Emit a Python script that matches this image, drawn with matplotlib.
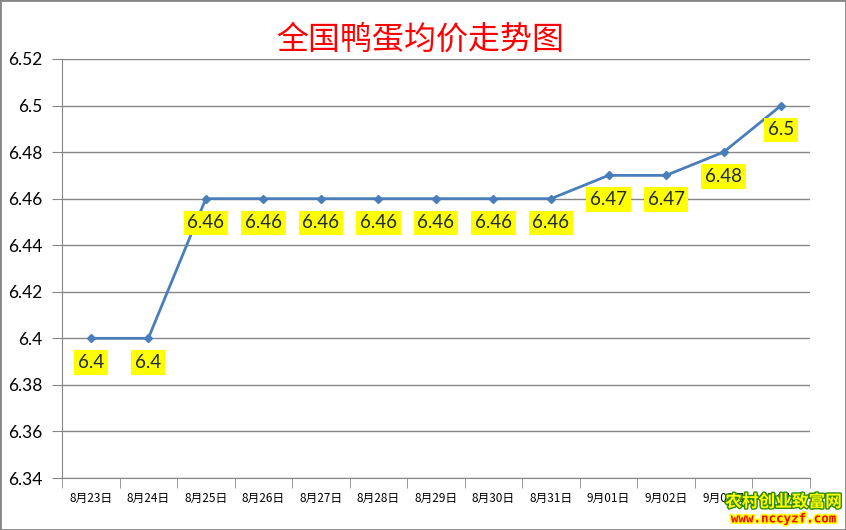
import matplotlib
matplotlib.use("Agg")
import matplotlib.pyplot as plt
import matplotlib.patheffects as pe
from matplotlib.patches import Rectangle

plt.rcParams['font.family'] = ['Lato', 'Noto Sans CJK SC', 'DejaVu Sans']

dates = ["8月23日", "8月24日", "8月25日", "8月26日", "8月27日", "8月28日", "8月29日",
         "8月30日", "8月31日", "9月01日", "9月02日", "9月03日", "9月04日"]
prices = [6.40, 6.40, 6.46, 6.46, 6.46, 6.46, 6.46, 6.46, 6.46, 6.47, 6.47, 6.48, 6.50]
labels = ["6.4", "6.4", "6.46", "6.46", "6.46", "6.46", "6.46", "6.46", "6.46",
          "6.47", "6.47", "6.48", "6.5"]
yticks = [6.34, 6.36, 6.38, 6.40, 6.42, 6.44, 6.46, 6.48, 6.50, 6.52]
ytick_labels = ["6.34", "6.36", "6.38", "6.4", "6.42", "6.44", "6.46", "6.48", "6.5", "6.52"]

grey = "#868686"
fig = plt.figure(figsize=(8.46, 5.30), dpi=100)
ax = fig.add_axes([0.0733, 0.0981, 0.884, 0.7906])

x = list(range(len(dates)))
ax.plot(x, prices, color="#4A7EBB", lw=2.0, marker="D", markersize=4.5, zorder=3)

for xi, yi, t in zip(x, prices, labels):
    ax.annotate(t, (xi, yi), xytext=(0, -17.5), textcoords="offset points",
                ha="center", va="center", fontsize=13.5, color="#1F2A3A",
                bbox=dict(boxstyle="square,pad=0.2", fc="#FFFF00", ec="none"), zorder=4)

ax.set_xlim(-0.5, len(dates) - 0.5)
ax.set_ylim(6.34, 6.52)
ax.set_yticks(yticks)
ax.set_yticklabels(ytick_labels, fontsize=12.5)
ax.yaxis.grid(True, color=grey, lw=1)
ax.set_axisbelow(True)

ax.set_xticks(x)
ax.set_xticklabels(dates, fontsize=8.5, family=['Noto Sans CJK SC', 'DejaVu Sans'])
ax.set_xticks([i - 0.5 for i in range(len(dates) + 1)], minor=True)
ax.tick_params(axis="x", which="major", length=0, pad=10)
ax.tick_params(axis="x", which="minor", length=7, color=grey, direction="out")
ax.tick_params(axis="y", length=7, color=grey, pad=7)

for s in ["top", "right"]:
    ax.spines[s].set_visible(False)
for s in ["left", "bottom"]:
    ax.spines[s].set_color(grey)

fig.text(0.497, 0.925, "全国鸭蛋均价走势图", color="#FF0000", fontsize=23,
         ha="center", va="center", family=['Noto Sans CJK SC', 'DejaVu Sans'])

# watermark, sits over the last tick labels as in the source image
fig.text(0.926, 0.053, "农村创业致富网", color="#FFFF00", fontsize=12, ha="center", va="center",
         family=['Noto Sans CJK SC', 'DejaVu Sans'], fontweight="bold",
         path_effects=[pe.withStroke(linewidth=2, foreground="#2E8B00")])
fig.text(0.926, 0.021, "www.nccyzf.com", color="#FF0000", fontsize=9, ha="center", va="center",
         family="DejaVu Sans Mono", fontweight="bold",
         path_effects=[pe.withStroke(linewidth=2.5, foreground="#FFFF00")])

fig.patches.append(Rectangle((0, 0), 1, 1, transform=fig.transFigure, fill=False,
                             ec=grey, lw=2))

fig.savefig("out.png", dpi=100)
